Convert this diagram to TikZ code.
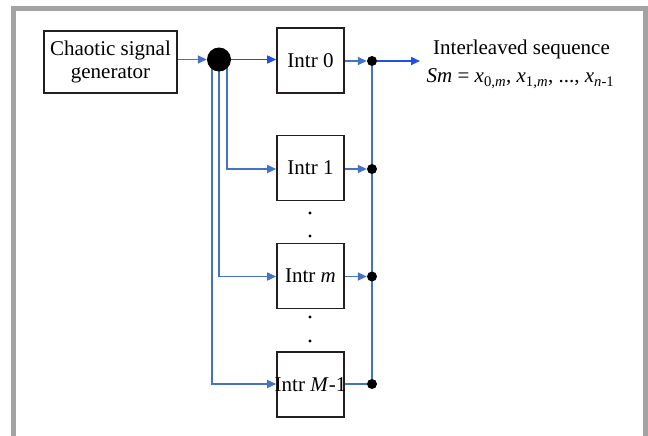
\documentclass[tikz,border=0pt]{standalone}
\usepackage{fontspec}
\setmainfont{Liberation Serif}
\usetikzlibrary{arrows.meta,calc}
\definecolor{frameGray}{HTML}{A3A3A3}
\definecolor{blueA}{HTML}{4472C4}
\definecolor{blueB}{HTML}{1F4FEA}
\definecolor{boxLine}{HTML}{231F20}
\pgfdeclarelayer{bg}
\pgfsetlayers{bg,main}
\begin{document}
\begin{tikzpicture}[x=1pt,y=-1pt,
  font=\fontsize{21}{23}\selectfont,
  blockbox/.style={draw=boxLine,line width=1.6pt,rectangle,inner sep=0pt,
    minimum width=67pt,minimum height=65pt,align=center},
  bigjoin/.style={circle,fill=black,inner sep=0pt,minimum size=24pt},
  smalljoin/.style={circle,fill=black,inner sep=0pt,minimum size=10pt},
  tinydot/.style={circle,fill=black,inner sep=0pt,minimum size=3.2pt},
  link/.style={draw=blueA,line width=1.6pt},
  linkB/.style={draw=blueB,line width=1.6pt},
  tip/.style={-{Triangle[length=9pt,width=8pt]}}
]
\useasboundingbox (0,0) rectangle (648,436);
\draw[frameGray,line width=5pt] (13.5,440) -- (13.5,8.5) -- (645.5,8.5) -- (645.5,440);

\node[blockbox,minimum width=133pt,minimum height=62pt] (gen) at (110.5,62) {Chaotic signal\\generator};
\node[bigjoin] (hub) at (219,59.5) {};
\node[blockbox] (i0) at (310.5,60.5) {Intr 0};
\node[blockbox] (i1) at (310.5,168) {Intr 1};
\node[blockbox] (im) at (310.5,276) {Intr \textit{m}};
\node[blockbox] (iM) at (310.5,384.5) {\makebox[67pt][c]{Intr \textit{M}-1}};
\node[smalljoin] (j0) at (372,61) {};
\node[smalljoin] (j1) at (372,169) {};
\node[smalljoin] (jm) at (372,276.5) {};
\node[smalljoin] (jM) at (372,384) {};
\coordinate (out) at (420,61);
\node[tinydot] (d1) at (310,213) {};
\node[tinydot] (d2) at (310,236) {};
\node[tinydot] (d3) at (310,317) {};
\node[tinydot] (d4) at (310,341) {};
\node[anchor=base,inner sep=0pt] (seqA) at (521.5,55) {Interleaved sequence};
\node[anchor=base,inner sep=0pt] (seqB) at (520.5,83) {\textit{Sm} = \textit{x}\textsubscript{0,\textit{m}}, \textit{x}\textsubscript{1,\textit{m}}, ..., \textit{x}\textsubscript{\textit{n}-1}};

\begin{pgfonlayer}{bg}
\draw[link,tip] (gen.east |- hub) -- (hub.west);
\draw[linkB,tip] (hub.east) -- (i0.west |- hub);
\draw[link,tip] ($(hub.center)+(8,0)$) |- (i1.west |- j1);
\draw[link,tip] ($(hub.center)+(0,0)$) |- (im.west |- jm);
\draw[link,tip] ($(hub.center)+(-7,0)$) |- (iM.west |- jM);
\draw[link] (j0.center) -- (jM.center);
\draw[link,tip] (i0.east |- j0) -- (j0.west);
\draw[link,tip] (i1.east |- j1) -- (j1.west);
\draw[link,tip] (im.east |- jm) -- (jm.west);
\draw[link] (iM.east |- jM) -- (jM.west);
\draw[linkB,tip] (j0.east) -- (out);
\end{pgfonlayer}
\end{tikzpicture}
\end{document}
